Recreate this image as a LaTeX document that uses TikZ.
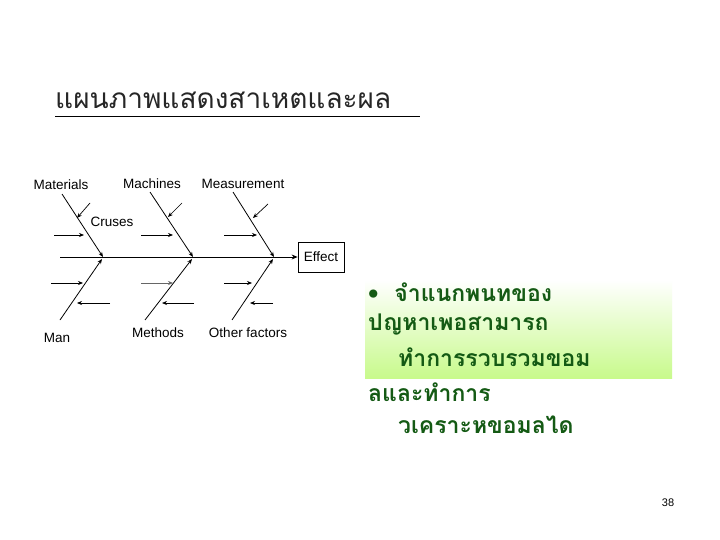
\documentclass[tikz,border=0pt]{standalone}
\usepackage{fontspec}
\setmainfont{Liberation Sans}
\newfontfamily\thaifont[Script=Thai]{Loma}
\usetikzlibrary{arrows.meta}
\definecolor{dg}{RGB}{20,90,20}
\begin{document}
\begin{tikzpicture}[x=1pt,y=-1pt,
  bone/.style={line width=0.8pt},
  sm/.style={line width=0.7pt,-{Stealth[length=5pt,width=4pt]}},
  lab/.style={font=\fontsize{13.5}{15}\selectfont,inner sep=0pt}]
\useasboundingbox (0,0) rectangle (720,540);
\fill[white] (0,0) rectangle (720,540);
\node[anchor=west,inner sep=0pt,font=\thaifont\fontsize{28}{32}\selectfont,text=black!85] (title) at (55,100) {แผนภาพแสดงสาเหตและผล};
\draw[line width=0.8pt] (55,116) -- (420,116);
% gradient box
\shade[top color=white,bottom color={rgb,255:red,200;green,250;blue,140}] (365,280) rectangle (672,378);
\begin{scope}[every node/.style={anchor=west,inner sep=0pt,text=dg,font=\thaifont\bfseries\fontsize{23}{26}\selectfont}]
\node (t1) at (368,292) {• \ จำแนกพนทของ};
\node (t2) at (368,325) {ปญหาเพอสามารถ};
\node (t3) at (398,357) {ทำการรวบรวมขอม};
\node (t4) at (368,392) {ลและทำการ};
\node (t5) at (398,425) {วเคราะหขอมลได};
\end{scope}
\node[lab,font=\fontsize{11}{13}\selectfont] (p) at (668,503) {38};
% fishbone
\node[draw,line width=0.8pt,minimum width=46pt,minimum height=30pt,inner sep=0pt,lab] (eff) at (321,257) {Effect};
\coordinate (s0) at (60,257);
\draw[bone,-{Stealth[length=6pt,width=5pt]}] (s0) -- (eff.west);
\node[lab] (mat) at (61,185) {Materials};
\node[lab] (mac) at (152,184) {Machines};
\node[lab] (mea) at (243,184) {Measurement};
\node[lab] (man) at (57,338) {Man};
\node[lab] (met) at (158,333) {Methods};
\node[lab] (oth) at (248,333) {Other factors};
\node[lab] (cru) at (112,222) {Cruses};
\coordinate (j1) at (103,257); \coordinate (j2) at (193,257); \coordinate (j3) at (274,257);
\draw[bone,-{Stealth[length=5pt,width=4pt]}] (62,194) -- (j1);
\draw[bone,-{Stealth[length=5pt,width=4pt]}] (150,192) -- (j2);
\draw[bone,-{Stealth[length=5pt,width=4pt]}] (233,192) -- (j3);
\draw[bone,-{Stealth[length=5pt,width=4pt]}] (60,320) -- (102,259);
\draw[bone,-{Stealth[length=5pt,width=4pt]}] (145,320) -- (192,259);
\draw[bone,-{Stealth[length=5pt,width=4pt]}] (232,320) -- (273,259);
\draw[sm] (90,203) -- (77,218);
\draw[sm] (54,235) -- (84,235);
\draw[sm] (51,283) -- (83,283);
\draw[sm] (110,303) -- (77,303);
\draw[sm] (182,203) -- (168,217);
\draw[sm] (141,235) -- (173,235);
\draw[sm,black!60] (141,283) -- (173,283);
\draw[sm] (194,303) -- (162,303);
\draw[sm] (268,204) -- (253,218);
\draw[sm] (224,235) -- (257,235);
\draw[sm] (224,283) -- (252,283);
\draw[sm] (273,303) -- (250,303);
\end{tikzpicture}
\end{document}
